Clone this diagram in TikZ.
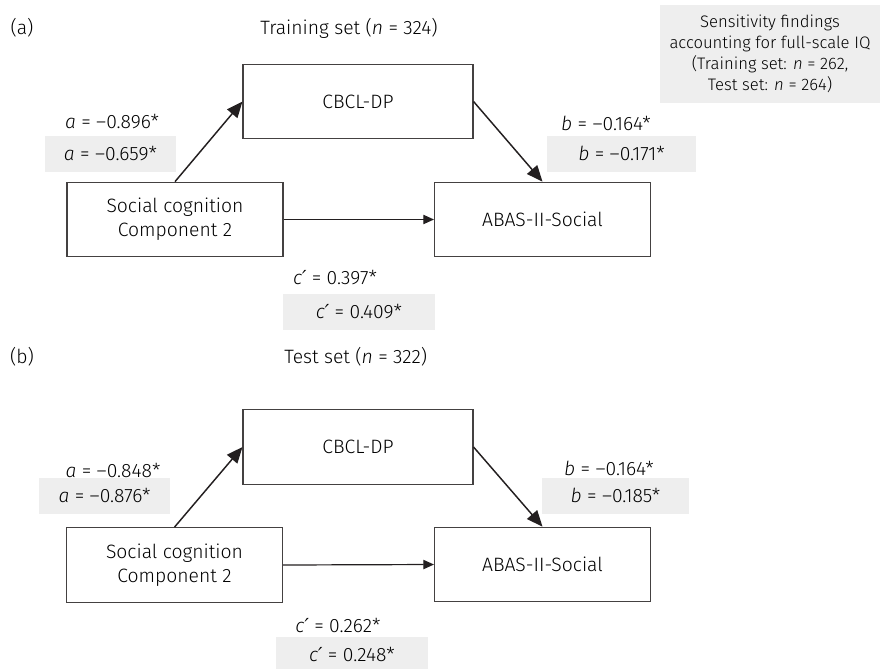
\documentclass[tikz,border=0pt]{standalone}
\usepackage{fontspec}
\setmainfont{Fira Sans}[UprightFont=* Light,ItalicFont=* Light Italic]
\newfontfamily\primefont{DejaVu Sans}
\newcommand{\cpr}{\textit{c}{\primefont\itshape ′}}
\usetikzlibrary{arrows.meta}
\definecolor{ink}{RGB}{35,31,32}
\definecolor{shade}{RGB}{238,238,238}
\tikzset{
  varbox/.style={draw=ink!85,line width=0.8pt,minimum width=162pt,minimum height=56pt,inner sep=0pt,align=center},
  shadelab/.style={fill=shade,minimum height=27pt,inner sep=0pt},
  pathlab/.style={inner sep=0pt},
  medarrow/.style={draw=ink,line width=1.1pt,-{Triangle[length=12pt,width=10pt]}},
  directarrow/.style={draw=ink,line width=0.9pt,-{Triangle[length=8pt,width=7pt]}}
}

\begin{document}
\begin{tikzpicture}[x=0.75pt,y=-0.75pt,font=\fontsize{14.5}{18}\selectfont]
        \useasboundingbox (0,0) rectangle (881,668);
        % (a) training set
        \node (labA) at (22,28) {(a)};
        \node[anchor=west,inner sep=0pt] (titleA) at (260,28) {Training set (\textit{n} = 324)};
        \node[fill=shade,minimum width=165pt,minimum height=73.5pt,inner sep=0pt,align=center,
          font=\fontsize{12.5}{15.75}\selectfont] (sens) at (770,54)
          {Sensitivity findings\\accounting for full-scale IQ\\(Training set: \textit{n} = 262,\\Test set: \textit{n} = 264)};
        \node[varbox,minimum width=172.5pt] (cbclA) at (358,101.5) {CBCL-DP};
        \node[varbox] (socA) at (175,219.5) {Social cognition\\Component 2};
        \node[varbox] (abasA) at (542.5,219.5) {ABAS-II-Social};
        \draw[medarrow] (socA.north) -- (cbclA.west);
        \draw[medarrow] (cbclA.east) -- (abasA.north);
        \draw[directarrow] (socA.east) -- (abasA.west);
        \node[pathlab] (aA) at (112,122) {\textit{a} = –0.896*};
        \node[shadelab,minimum width=98pt] (aAs) at (110.5,154) {\textit{a} = –0.659*};
        \node[pathlab] (bA) at (606,123) {\textit{b} = –0.164*};
        \node[shadelab,minimum width=112pt] (bAs) at (621.5,153.5) {\textit{b} = –0.171*};
        \node[pathlab] (cA) at (335,278) {\cpr{} = 0.397*};
        \node[shadelab,minimum width=114pt] (cAs) at (359,311.5) {\cpr{} = 0.409*};
        % (b) test set
        \node (labB) at (22,357) {(b)};
        \node[anchor=west,inner sep=0pt] (titleB) at (284,357) {Test set (\textit{n} = 322)};
        \node[varbox,minimum width=172.5pt] (cbclB) at (358,447) {CBCL-DP};
        \node[varbox] (socB) at (174.5,565) {Social cognition\\Component 2};
        \node[varbox] (abasB) at (542.5,564.5) {ABAS-II-Social};
        \draw[medarrow] (socB.north) -- (cbclB.west);
        \draw[medarrow] (cbclB.east) -- (abasB.north);
        \draw[directarrow] (socB.east) -- (abasB.west);
        \node[pathlab] (aB) at (113,470) {\textit{a} = –0.848*};
        \node[shadelab,minimum width=98pt] (aBs) at (104.5,495.5) {\textit{a} = –0.876*};
        \node[pathlab] (bB) at (609,468) {\textit{b} = –0.164*};
        \node[shadelab,minimum width=110pt] (bBs) at (615.5,495.5) {\textit{b} = –0.185*};
        \node[pathlab] (cB) at (338,625) {\cpr{} = 0.262*};
        \node[shadelab,minimum width=114pt] (cBs) at (352,654.5) {\cpr{} = 0.248*};
      \end{tikzpicture}
\end{document}
